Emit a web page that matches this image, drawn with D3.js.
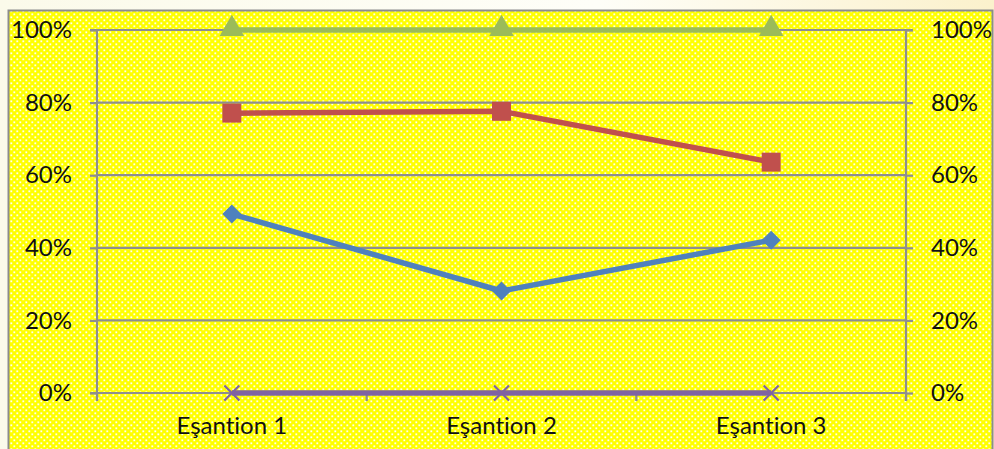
<!DOCTYPE html>
<html>
<head>
<meta charset="utf-8">
<script src="https://cdn.jsdelivr.net/npm/d3@7/dist/d3.min.js"></script>
<style>
  html, body { margin: 0; padding: 0; background: #fdfcf2; }
  svg { display: block; }
  text { font-family: Lato, "Liberation Sans", Arial, sans-serif; fill: #111;
         font-variant-ligatures: none; font-feature-settings: "liga" 0, "clig" 0; }
</style>
</head>
<body>
<svg id="chart" width="994" height="449"></svg>
<script>
// Samples and series (share of total, 0..1)
const categories = ["Eşantion 1", "Eşantion 2", "Eşantion 3"];
const seriesBlue   = [0.493, 0.281, 0.421];
const seriesRed    = [0.771, 0.776, 0.636];
const seriesGreen  = [1.0, 1.0, 1.0];
const seriesPurple = [0.0, 0.0, 0.0];
const yTicks = [0, 0.2, 0.4, 0.6, 0.8, 1.0];

const W = 994, H = 449;
const plot = { left: 97, right: 906, top: 30, bottom: 393 };
const FONT = "Lato, 'Liberation Sans', Arial, sans-serif";

const svg = d3.select("#chart");
const defs = svg.append("defs");

// Soft cream page gradient
const pg = defs.append("linearGradient").attr("id", "pageGrad")
  .attr("x1", "0").attr("y1", "0").attr("x2", "1").attr("y2", "0");
pg.append("stop").attr("offset", "0").attr("stop-color", "#fbfaea");
pg.append("stop").attr("offset", "0.6").attr("stop-color", "#fefef8");
pg.append("stop").attr("offset", "1").attr("stop-color", "#fbf1cc");

// Yellow fill with small white dots
const pat = defs.append("pattern").attr("id", "dots")
  .attr("patternUnits", "userSpaceOnUse").attr("width", 6).attr("height", 6)
  .attr("x", 1).attr("y", 1);
pat.append("rect").attr("width", 6).attr("height", 6).attr("fill", "#ffff00");
pat.append("rect").attr("x", 0.4).attr("y", 0.4).attr("width", 1.8).attr("height", 1.8)
  .attr("fill", "#ffffff").attr("opacity", 0.95);
pat.append("rect").attr("x", 3.4).attr("y", 3.4).attr("width", 1.8).attr("height", 1.8)
  .attr("fill", "#ffffff").attr("opacity", 0.95);

svg.append("rect").attr("width", W).attr("height", H).attr("fill", "url(#pageGrad)");

// Chart frame
svg.append("rect")
  .attr("x", 8.5).attr("y", 10.5).attr("width", 984).attr("height", 460)
  .attr("fill", "url(#dots)").attr("stroke", "#8c8c8c").attr("stroke-width", 2);

const x = d3.scaleBand().domain(categories).range([plot.left, plot.right]).padding(0);
const y = d3.scaleLinear().domain([0, 1]).range([plot.bottom, plot.top]);
const cx = c => x(c) + x.bandwidth() / 2;

const gridColor = "#8e8e8e";
const fmt = d3.format(".0%");

// Horizontal gridlines
svg.append("g").selectAll("line").data(yTicks.filter(t => t > 0)).join("line")
  .attr("x1", plot.left).attr("x2", plot.right)
  .attr("y1", d => y(d)).attr("y2", d => y(d))
  .attr("stroke", gridColor).attr("stroke-width", 2.2);

// Left axis
const leftAxis = svg.append("g").attr("transform", `translate(${plot.left},0)`)
  .call(d3.axisLeft(y).tickValues(yTicks).tickFormat(fmt).tickSize(7).tickPadding(18));
// Right axis
const rightAxis = svg.append("g").attr("transform", `translate(${plot.right},0)`)
  .call(d3.axisRight(y).tickValues(yTicks).tickFormat(fmt).tickSize(7).tickPadding(18));
// Bottom axis: ticks at the band boundaries
const bottomAxis = svg.append("g").attr("transform", `translate(0,${plot.bottom})`)
  .call(d3.axisBottom(x).tickSize(0).tickPadding(24));

[leftAxis, rightAxis, bottomAxis].forEach(g => {
  g.selectAll(".domain").attr("stroke", gridColor).attr("stroke-width", 2.2);
  g.selectAll(".tick line").attr("stroke", gridColor).attr("stroke-width", 2.2);
  g.selectAll("text").attr("font-size", 24).attr("fill", "#111")
    .attr("font-family", FONT);
});
leftAxis.select(".domain").attr("d", `M-7,${plot.top}H0V${plot.bottom + 8}`);
rightAxis.select(".domain").attr("d", `M7,${plot.top}H0V${plot.bottom + 8}`);
bottomAxis.select(".domain").attr("d", `M${plot.left - 7},0H${plot.right}`);

const bounds = categories.map(c => x(c)).concat([plot.right]);
svg.append("g").selectAll("line").data(bounds).join("line")
  .attr("x1", d => d).attr("x2", d => d)
  .attr("y1", plot.bottom).attr("y2", plot.bottom + 8)
  .attr("stroke", gridColor).attr("stroke-width", 2.2);

const line = d3.line().x((d, i) => cx(categories[i])).y(d => y(d));

const series = [
  { values: seriesPurple, color: "#8064a2", marker: "x" },
  { values: seriesBlue,   color: "#4f81bd", marker: "diamond" },
  { values: seriesRed,    color: "#c0504d", marker: "square" },
  { values: seriesGreen,  color: "#9bbb59", marker: "triangle" }
];

const symbolFor = {
  diamond: d3.symbol().type(d3.symbolDiamond2).size(230),
  square: d3.symbol().type(d3.symbolSquare).size(360),
  triangle: d3.symbol().type(d3.symbolTriangle).size(260)
};

series.forEach(s => {
  svg.append("path").datum(s.values)
    .attr("d", line).attr("fill", "none")
    .attr("stroke", s.color).attr("stroke-width", 5.5)
    .attr("stroke-linejoin", "round");
  const g = svg.append("g");
  s.values.forEach((v, i) => {
    const px = cx(categories[i]), py = y(v);
    if (s.marker === "x") {
      const r = 7.5;
      g.append("path")
        .attr("d", `M${px - r},${py - r}L${px + r},${py + r}M${px - r},${py + r}L${px + r},${py - r}`)
        .attr("stroke", s.color).attr("stroke-width", 2.2).attr("fill", "none");
    } else {
      g.append("path").attr("d", symbolFor[s.marker]())
        .attr("transform", `translate(${px},${py + (s.marker === "triangle" ? -1 : 0)})`)
        .attr("fill", s.color);
    }
  });
});
</script>
</body>
</html>
